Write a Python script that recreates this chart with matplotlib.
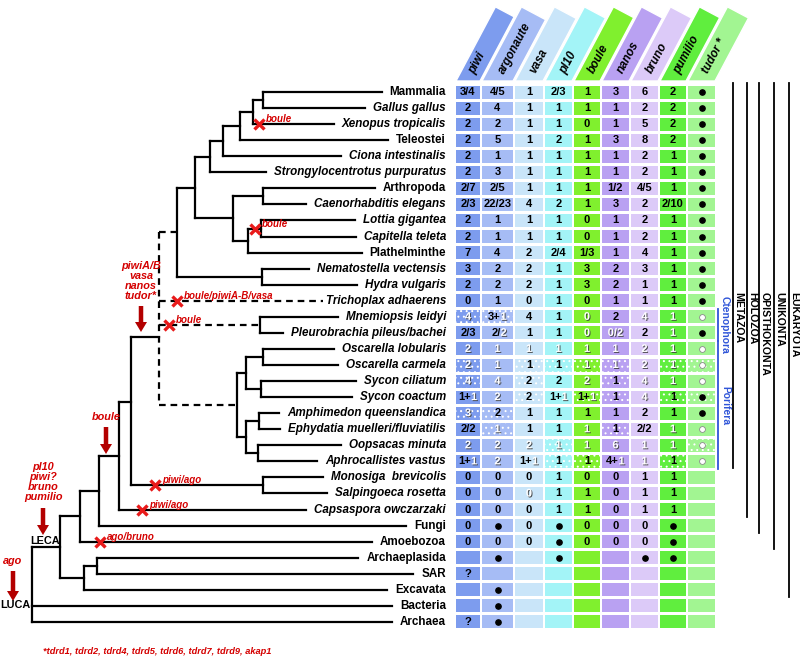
import numpy as np
import matplotlib

matplotlib.use("Agg")
import matplotlib.pyplot as plt
import matplotlib.patheffects as pe
from matplotlib.patches import Rectangle, Polygon, FancyArrow

plt.rcParams["font.family"] = ["Liberation Sans", "DejaVu Sans"]
plt.rcParams["hatch.linewidth"] = 0.7

# ---- data -----------------------------------------------------------------
TAXA = [
    "Mammalia", "Gallus gallus", "Xenopus tropicalis", "Teleostei",
    "Ciona intestinalis", "Strongylocentrotus purpuratus", "Arthropoda",
    "Caenorhabditis elegans", "Lottia gigantea", "Capitella teleta",
    "Plathelminthe", "Nematostella vectensis", "Hydra vulgaris",
    "Trichoplax adhaerens", "Mnemiopsis leidyi", "Pleurobrachia pileus/bachei",
    "Oscarella lobularis", "Oscarella carmela", "Sycon ciliatum", "Sycon coactum",
    "Amphimedon queenslandica", "Ephydatia muelleri/fluviatilis", "Oopsacas minuta",
    "Aphrocallistes vastus", "Monosiga  brevicolis", "Salpingoeca rosetta",
    "Capsaspora owczarzaki", "Fungi", "Amoebozoa", "Archaeplasida", "SAR",
    "Excavata", "Bacteria", "Archaea",
]
HIGHER = ["Mammalia", "Teleostei", "Arthropoda", "Plathelminthe", "Fungi", "Amoebozoa",
          "Archaeplasida", "SAR", "Excavata", "Bacteria", "Archaea"]

GENES = ["piwi", "argonaute", "vasa", "pl10", "boule", "nanos", "bruno", "pumilio", "tudor *"]
GENE_COLORS = ["#7d9cee", "#a6bcf5", "#c9e5f9", "#a3f4f7", "#80f02e",
               "#b9a1f2", "#dccaf8", "#60ee3e", "#a2f592"]

# "•" = present (not counted), "o" = present in white, "" = empty cell
COUNTS = [
    ["3/4", "4/5", "1", "2/3", "1", "3", "6", "2", "•"],
    ["2", "4", "1", "1", "1", "1", "2", "2", "•"],
    ["2", "2", "1", "1", "0", "1", "5", "2", "•"],
    ["2", "5", "1", "2", "1", "3", "8", "2", "•"],
    ["2", "1", "1", "1", "1", "1", "2", "1", "•"],
    ["2", "3", "1", "1", "1", "1", "2", "1", "•"],
    ["2/7", "2/5", "1", "1", "1", "1/2", "4/5", "1", "•"],
    ["2/3", "22/23", "4", "2", "1", "3", "2", "2/10", "•"],
    ["2", "1", "1", "1", "0", "1", "2", "1", "•"],
    ["2", "1", "1", "1", "0", "1", "2", "1", "•"],
    ["7", "4", "2", "2/4", "1/3", "1", "4", "1", "•"],
    ["3", "2", "2", "1", "3", "2", "3", "1", "•"],
    ["2", "2", "2", "1", "3", "2", "1", "1", "•"],
    ["0", "1", "0", "1", "0", "1", "1", "1", "•"],
    ["4", "3+1", "4", "1", "0", "2", "4", "1", "o"],
    ["2/3", "2/2", "1", "1", "0", "0/2", "2", "1", "•"],
    ["2", "1", "1", "1", "1", "1", "2", "1", "o"],
    ["2", "1", "1", "1", "1", "1", "2", "1", "o"],
    ["4", "4", "2", "2", "2", "1", "4", "1", "o"],
    ["1+1", "2", "2", "1+1", "1+1", "1", "4", "1", "•"],
    ["3", "2", "1", "1", "1", "1", "2", "1", "•"],
    ["2/2", "1", "1", "1", "1", "1", "2/2", "1", "o"],
    ["2", "2", "2", "1", "1", "6", "1", "1", "o"],
    ["1+1", "2", "1+1", "1", "1", "4+1", "1", "1", "o"],
    ["0", "0", "0", "1", "0", "0", "1", "1", ""],
    ["0", "0", "0", "1", "1", "0", "1", "1", ""],
    ["0", "0", "0", "1", "1", "0", "1", "1", ""],
    ["0", "•", "0", "•", "0", "0", "0", "•", ""],
    ["0", "0", "0", "•", "0", "0", "0", "•", ""],
    ["", "•", "", "•", "", "", "•", "•", ""],
    ["?", "", "", "", "", "", "", "", ""],
    ["", "•", "", "", "", "", "", "", ""],
    ["", "•", "", "", "", "", "", "", ""],
    ["?", "•", "", "", "", "", "", "", ""],
]
# b = black, w = white, m = black with last character white
TEXT_STYLE = ["bbbbbbbbb"] * 14 + [
    "wmbbwbwww", "bmbbwwbwb", "wwwwwwwww", "wwbbwwwww", "wwbbwbwww",
    "mwbmmbwbb", "wbbbbbbbb", "bwbbwbbww", "wwwwwwwww", "mwmbbmwbw",
    "bbbbbbbbb", "bbwbbbbbb",
] + ["bbbbbbbbb"] * 8
# d = dotted (white speckled) cell
DOTTED = ["........."] * 14 + [
    "dd.......", ".........", ".........", "d.dddd.dd", "d.d..d...",
    "..d.dd.dd", "dd.......", ".d...d...", "...d....d", "...dd..d.",
] + ["........."] * 10

# phylogeny: (node name, node depth in px, children); leaves are taxa
TREE = ("LUCA", 32, [
    ("LECA", 60, [
        ("Unikonta", 80, [
            ("Opisthokonta", 99, [
                ("Holozoa", 119, [
                    ("Choanozoa", 131, [
                        ("Metazoa", 159, [
                            ("Eumetazoa", 177, [
                                ("Bilateria", 195, [
                                    ("Deuterostomia", 210, [
                                        ("Chordata", 223, [
                                            ("Vertebrata", 240, [
                                                ("Tetrapoda", 253, [
                                                    ("Amniota", 263, ["Mammalia", "Gallus gallus"]),
                                                    "Xenopus tropicalis"]),
                                                "Teleostei"]),
                                            "Ciona intestinalis"]),
                                        "Strongylocentrotus purpuratus"]),
                                    ("Protostomia", 233, [
                                        ("Ecdysozoa", 263, ["Arthropoda", "Caenorhabditis elegans"]),
                                        ("Lophotrochozoa", 248, [
                                            ("LottiaCapitella", 261, ["Lottia gigantea", "Capitella teleta"]),
                                            "Plathelminthe"])])]),
                                ("Cnidaria", 262, ["Nematostella vectensis", "Hydra vulgaris"])]),
                            "Trichoplax adhaerens",
                            ("Ctenophora", 260, ["Mnemiopsis leidyi", "Pleurobrachia pileus/bachei"]),
                            ("Porifera", 237, [
                                ("HomoCalc", 246, [
                                    ("Oscarella", 263, ["Oscarella lobularis", "Oscarella carmela"]),
                                    ("Sycon", 261, ["Sycon ciliatum", "Sycon coactum"])]),
                                ("DemoHexa", 246, [
                                    ("Demospongiae", 259, ["Amphimedon queenslandica",
                                                           "Ephydatia muelleri/fluviatilis"]),
                                    ("Hexactinellida", 258, ["Oopsacas minuta", "Aphrocallistes vastus"])])])]),
                        ("Choanoflagellata", 263, ["Monosiga  brevicolis", "Salpingoeca rosetta"])]),
                    "Capsaspora owczarzaki"]),
                "Fungi"]),
            "Amoebozoa"]),
        ("Bikonta", 84, [
            ("ArchSAR", 97, ["Archaeplasida", "SAR"]),
            "Excavata"])]),
    "Bacteria",
    "Archaea"])
NODE_Y = {"Metazoa": 337, "Choanozoa": 402}
DASHED = ["Metazoa"]

LOSSES = [
    ("Xenopus tropicalis", 259, "boule"),
    ("LottiaCapitella", 255, "boule"),
    ("Trichoplax adhaerens", 177, "boule/piwiA-B/vasa"),
    ("Ctenophora", 169, "boule"),
    ("Choanoflagellata", 155, "piwi/ago"),
    ("Capsaspora owczarzaki", 142, "piwi/ago"),
    ("Amoebozoa", 100, "ago/bruno"),
]
# gain label, x, top of text, arrow start, arrow end
GAINS = [
    ("ago", 13, 556, 571, 601),
    ("pl10\npiwi?\nbruno\npumilio", 43, 462, 508, 535),
    ("boule", 106, 412, 427, 454),
    ("piwiA/B\nvasa\nnanos\ntudor*", 141, 261, 306, 332),
]
NODE_LABELS = [("LECA", 45, 541), ("LUCA", 15, 605)]

CLADES = [("METAZOA", 733, 23), ("HOLOZOA", 747, 26), ("OPISTHOKONTA", 759, 27),
          ("UNIKONTA", 774, 28), ("EUKARYOTA", 789, 31)]
SUBCLADES = [("Ctenophora", 14, 15), ("Porifera", 16, 23)]

FOOTNOTE = "*tdrd1, tdrd2, tdrd4, tdrd5, tdrd6, tdrd7, tdrd9, akap1"

# ---- layout ---------------------------------------------------------------
ROW0, ROW_H = 92.0, 16.06
ROW_Y = [ROW0 + ROW_H * i for i in range(len(TAXA))]
COL_EDGES = [455, 481, 514, 544, 573, 601, 630, 659, 687, 716]
LABEL_X = 446
RED = "#d40000"
DARK_RED = "#b30000"
BLUE = "#2f55d8"
LW = 1.6

fig = plt.figure(figsize=(8.0, 6.58), dpi=100)
ax = fig.add_axes([0, 0, 1, 1])
ax.set_xlim(0, 800)
ax.set_ylim(658, 0)
ax.axis("off")

shadow = [pe.withSimplePatchShadow(offset=(0.7, -0.7), shadow_rgbFace="#3a3a3a", alpha=0.85)]

# header banners
ang = np.radians(62)
cs, sn = np.cos(ang), np.sin(ang)
yb, blen = 81, 84
for j, (gene, col) in enumerate(zip(GENES, GENE_COLORS)):
    x0, x1 = COL_EDGES[j] + 1, COL_EDGES[j + 1] - 1
    w = x1 - x0
    tl = (x0 + blen * cs, yb - blen * sn)
    tr = (tl[0] + w * sn * sn, tl[1] + w * sn * cs)
    ax.add_patch(Polygon([(x0, yb), tl, tr, (x1, yb)], closed=True,
                         facecolor=col, edgecolor="white", lw=1))
    xc = (x0 + x1) / 2
    ax.text(xc + 9 * cs, yb - 9 * sn, gene, rotation=62, rotation_mode="anchor",
            ha="left", va="center", fontsize=8.4, fontweight="bold", style="italic")

# table
for i, row in enumerate(COUNTS):
    y = ROW_Y[i]
    for j, val in enumerate(row):
        x0, x1 = COL_EDGES[j] + 1, COL_EDGES[j + 1] - 1
        dotted = DOTTED[i][j] == "d"
        ax.add_patch(Rectangle((x0, y - 6.5), x1 - x0, 13, facecolor=GENE_COLORS[j],
                               edgecolor="white", lw=0, hatch="..." if dotted else None))
        xc = (x0 + x1) / 2
        style = TEXT_STYLE[i][j]
        if val == "•":
            ax.plot(xc, y, "o", ms=3.8, color="black")
        elif val == "o":
            ax.plot(xc, y, "o", ms=4.2, mfc="white", mec="#8a8a8a", mew=0.6)
        elif val:
            kw = dict(fontsize=8.0, fontweight="bold", va="center")
            if style == "b":
                ax.text(xc, y, val, ha="center", color="black", **kw)
            elif style == "w":
                ax.text(xc, y, val, ha="center", color="white", path_effects=shadow, **kw)
            else:
                ax.text(xc + 3, y, val[:-1], ha="right", color="black", **kw)
                ax.text(xc + 3, y, val[-1], ha="left", color="white", path_effects=shadow, **kw)

# tip labels
labels = {}
for name, y in zip(TAXA, ROW_Y):
    labels[name] = ax.text(LABEL_X, y, name, ha="right", va="center", fontsize=8.4,
                           fontweight="bold", style="normal" if name in HIGHER else "italic")
fig.canvas.draw()
renderer = fig.canvas.get_renderer()
inv = ax.transData.inverted()
tip_end = {}
for name, t in labels.items():
    bb = t.get_window_extent(renderer)
    tip_end[name] = inv.transform((bb.x0, bb.y0))[0] - (3 if name.startswith("Trich") else 8)

# tree
pos = {}


def place(node):
    if isinstance(node, str):
        return ROW_Y[TAXA.index(node)]
    name, x, kids = node
    ys = [place(k) for k in kids]
    y = NODE_Y.get(name, (min(ys) + max(ys)) / 2)
    pos[name] = (x, y)
    return y


def y_of(node):
    return ROW_Y[TAXA.index(node)] if isinstance(node, str) else pos[node[0]][1]


def draw(node):
    name, x, kids = node
    dashed = name in DASHED
    kw = dict(color="black", lw=LW, solid_capstyle="projecting")
    if dashed:
        kw.update(ls=(0, (3, 2.2)), dash_capstyle="butt")
    ys = [y_of(k) for k in kids]
    ax.plot([x, x], [min(ys), max(ys)], **kw)
    for k, ky in zip(kids, ys):
        end = tip_end[k] if isinstance(k, str) else k[1]
        ax.plot([x, end], [ky, ky], **kw)
        if not isinstance(k, str):
            draw(k)


place(TREE)
draw(TREE)

# losses
for target, x, txt in LOSSES:
    y = ROW_Y[TAXA.index(target)] if target in TAXA else pos[target][1]
    ax.plot(x, y, marker="x", ms=7.5, mew=2.4, color="#e81a1a", zorder=5)
    ax.text(x + 7, y - 5, txt, ha="left", va="center", fontsize=7, fontweight="bold",
            style="italic", color=RED)

# gains
for txt, x, ytop, ya, yb2 in GAINS:
    ax.text(x, ytop, txt, ha="center", va="top", fontsize=7.8, fontweight="bold",
            style="italic", color=RED, linespacing=1.0)
    ax.add_patch(FancyArrow(x, ya, 0, yb2 - ya, width=4.5, head_width=12, head_length=10,
                            length_includes_head=True, color=DARK_RED, lw=0))
for txt, x, y in NODE_LABELS:
    ax.text(x, y, txt, ha="center", va="center", fontsize=7.8, fontweight="bold")

# clade bars
for txt, x, last in CLADES:
    ax.plot([x, x], [83, ROW_Y[last] + 7], color="black", lw=1.3)
    ax.text(x + 5.5, 292, txt, rotation=-90, ha="center", va="top", fontsize=7.6,
            fontweight="bold")
for txt, first, last in SUBCLADES:
    ax.plot([718, 718], [ROW_Y[first] - 8, ROW_Y[last] + 8], color=BLUE, lw=1.3)
    ax.text(725, (ROW_Y[first] + ROW_Y[last]) / 2, txt, rotation=-90, ha="center",
            va="center", fontsize=7.4, fontweight="bold", color=BLUE)

ax.text(43, 652, FOOTNOTE, ha="left", va="center", fontsize=6.7, fontweight="bold",
        style="italic", color=RED)

fig.savefig("out.png", dpi=100)
